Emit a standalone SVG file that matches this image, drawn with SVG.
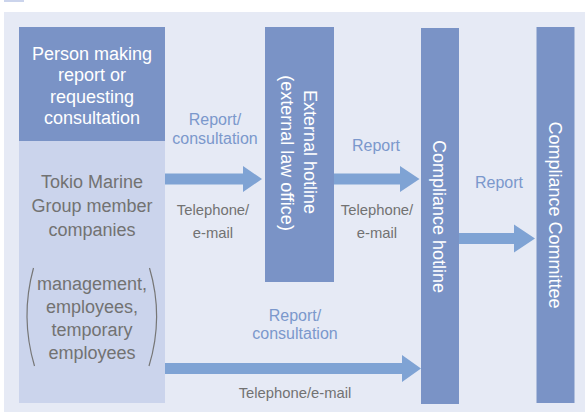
<svg xmlns="http://www.w3.org/2000/svg" width="585" height="412" viewBox="0 0 585 412">
<style>
.box{fill:#7a93c6}
.lt{fill:#cbd4ec}
.arr{fill:#7fa3d4}
.w{font-family:"Liberation Sans",Arial,sans-serif;font-size:18px;fill:#ffffff;text-anchor:middle}
.g{font-family:"Liberation Sans",Arial,sans-serif;font-size:18px;fill:#727272;text-anchor:middle}
.bl{font-family:"Liberation Sans",Arial,sans-serif;font-size:16px;fill:#7b98cc;text-anchor:middle}
.gs{font-family:"Liberation Sans",Arial,sans-serif;font-size:14.8px;fill:#727272;text-anchor:middle}
.par{fill:none;stroke:#767676;stroke-width:1.2}
</style>
<rect x="0" y="0" width="585" height="412" fill="#ffffff"/>
<rect x="4" y="-10" width="20" height="12" fill="#cbd4ec"/>
<rect x="4" y="12" width="581" height="400" fill="#e6eaf5"/>

<g id="connectors">
<polygon class="arr" points="165,173.5 243,173.5 243,166 262,179 243,192 243,184.5 165,184.5"/>
<polygon class="arr" points="334,173.5 400,173.5 400,166 419.5,179 400,192 400,184.5 334,184.5"/>
<polygon class="arr" points="459,233 514,233 514,224.5 535,238.5 514,252.5 514,244 459,244"/>
<polygon class="arr" points="165,363 402,363 402,355 421,368.5 402,382 402,374 165,374"/>
<text class="bl" x="215" y="125">Report/</text>
<text class="bl" x="215" y="143.5">consultation</text>
<text class="gs" x="213" y="215">Telephone/</text>
<text class="gs" x="213" y="237.5">e-mail</text>
<text class="bl" x="376" y="151">Report</text>
<text class="gs" x="377" y="215">Telephone/</text>
<text class="gs" x="377" y="237.5">e-mail</text>
<text class="bl" x="499" y="188">Report</text>
<text class="bl" x="295" y="321">Report/</text>
<text class="bl" x="295" y="338.5">consultation</text>
<text class="gs" x="295" y="397.5">Telephone/e-mail</text>
</g>

<g id="person">
<rect class="box" x="19" y="27" width="146" height="114"/>
<rect class="lt" x="19" y="141" width="146" height="262"/>
<text class="w" x="92" y="59.5">Person making</text>
<text class="w" x="92" y="81">report or</text>
<text class="w" x="92" y="102.5">requesting</text>
<text class="w" x="92" y="124">consultation</text>
<text class="g" x="92" y="188">Tokio Marine</text>
<text class="g" x="92" y="212">Group member</text>
<text class="g" x="92" y="236">companies</text>
<text class="g" x="92" y="290">management,</text>
<text class="g" x="92" y="313">employees,</text>
<text class="g" x="92" y="336">temporary</text>
<text class="g" x="92" y="359">employees</text>
<path class="par" d="M33.5,268 Q20,317 34.5,366"/>
<path class="par" d="M149.5,268 Q164,317 149,366"/>
</g>

<g id="external">
<rect class="box" x="265" y="27" width="69" height="255"/>
<text class="w" transform="translate(303.5,152) rotate(90)" x="0" y="0">External hotline</text>
<text class="w" transform="translate(280.5,153) rotate(90)" x="0" y="0">(external law office)</text>
</g>

<g id="hotline">
<rect class="box" x="421" y="28" width="38" height="376"/>
<text class="w" transform="translate(433,216.5) rotate(90)" x="0" y="0">Compliance hotline</text>
</g>

<g id="committee">
<rect class="box" x="536.5" y="27" width="38" height="376"/>
<text class="w" transform="translate(548.5,215) rotate(90)" x="0" y="0">Compliance Committee</text>
</g>
</svg>
